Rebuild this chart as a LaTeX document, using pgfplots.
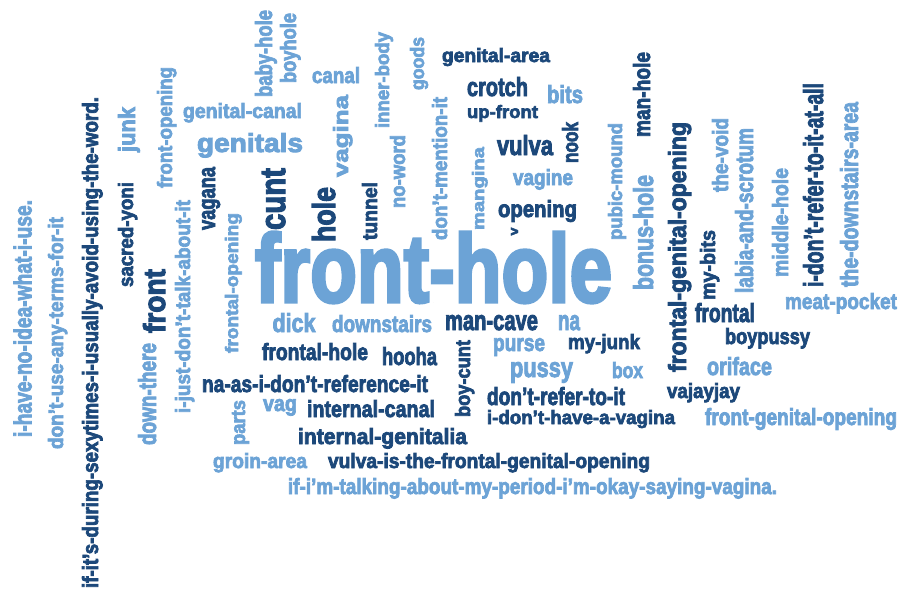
\documentclass[border=0pt]{standalone}
\usepackage{fontspec}
\setmainfont{Liberation Sans}[BoldFeatures={FakeBold=3.5}]
\usepackage{pgfplots}
\pgfplotsset{compat=1.18}

\definecolor{darkb}{RGB}{28,72,122}
\definecolor{lightb}{RGB}{108,163,214}

% one word of the cloud: x, y (centre of the baseline, px), length, height (px), angle, colour, word
\newcommand\cw[7]{%
    \addplot [only marks, mark=*, mark size=0pt, mark options={draw=none, fill=none},
        nodes near coords={\resizebox{#3pt}{#4pt}{\bfseries #7}},
        every node near coord/.style={anchor=base, inner sep=0pt, outer sep=0pt, rotate=#5, text=#6}]
        coordinates {(#1,#2)};
}

\begin{document}
\begin{tikzpicture}
    \begin{axis}[
        scale only axis,
        width = 899pt, height = 592pt,
        xmin = 0, xmax = 899, ymin = 0, ymax = 592,
        y dir = reverse,
        axis line style = {draw=none},
        ticks = none,
        clip = false
    ]
        \addplot [draw=none, mark=none] coordinates {(0,0) (899,592)};
        % light words
        \cw{242.5}{118}{119}{15}{0}{lightb}{genital-canal}
        \cw{250}{152}{106}{19}{0}{lightb}{genitals}
        \cw{336}{83}{48}{16}{0}{lightb}{canal}
        \cw{565}{103}{36}{18}{0}{lightb}{bits}
        \cw{543}{185}{60}{16}{0}{lightb}{vagine}
        \cw{433.5}{302}{357}{70}{0}{lightb}{front-hole}
        \cw{841}{309}{112}{16}{0}{lightb}{meat-pocket}
        \cw{739.5}{375}{65}{18}{0}{lightb}{oriface}
        \cw{801}{425}{192}{17}{0}{lightb}{front-genital-opening}
        \cw{627.5}{378}{31}{16}{0}{lightb}{box}
        \cw{541.5}{377}{63}{15}{0}{lightb}{pussy}
        \cw{519}{351}{52}{13}{0}{lightb}{purse}
        \cw{569}{330}{22}{15}{0}{lightb}{na}
        \cw{382}{332}{100}{17}{0}{lightb}{downstairs}
        \cw{294}{332}{43}{19}{0}{lightb}{dick}
        \cw{280}{411}{34}{12}{0}{lightb}{vag}
        \cw{260}{468}{94}{15}{0}{lightb}{groin-area}
        \cw{532.5}{494}{489}{16}{0}{lightb}{if-i'm-talking-about-my-period-i'm-okay-saying-vagina.}
        \cw{31.5}{318.5}{237}{18}{90}{lightb}{i-have-no-idea-what-i-use.}
        \cw{63}{333}{232}{15}{90}{lightb}{don't-use-any-terms-for-it}
        \cw{135}{129.5}{45}{17}{90}{lightb}{junk}
        \cw{172}{127.5}{121}{15}{90}{lightb}{front-opening}
        \cw{190}{306.5}{213}{15}{90}{lightb}{i-just-don't-talk-about-it}
        \cw{238}{283}{140}{13}{90}{lightb}{frontal-opening}
        \cw{156}{394}{102}{18}{90}{lightb}{down-there}
        \cw{245}{422.5}{45}{13}{90}{lightb}{parts}
        \cw{272}{53.5}{87}{17}{90}{lightb}{baby-hole}
        \cw{296}{48}{70}{16}{90}{lightb}{boyhole}
        \cw{348}{136}{82}{15}{90}{lightb}{vagina}
        \cw{389}{80}{96}{14}{90}{lightb}{inner-body}
        \cw{424}{63.5}{53}{14}{90}{lightb}{goods}
        \cw{405}{171.5}{73}{15}{90}{lightb}{no-word}
        \cw{447}{168.5}{143}{15}{90}{lightb}{don't-mention-it}
        \cw{484}{188.5}{83}{12}{90}{lightb}{mangina}
        \cw{622}{181.5}{117}{14}{90}{lightb}{pubic-mound}
        \cw{653}{232.5}{115}{20}{90}{lightb}{bonus-hole}
        \cw{728}{155}{74}{16}{90}{lightb}{the-void}
        \cw{753}{210.5}{165}{18}{90}{lightb}{labia-and-scrotum}
        \cw{788}{222.5}{109}{16}{90}{lightb}{middle-hole}
        \cw{858}{194.5}{185}{18}{90}{lightb}{the-downstairs-area}
        % dark words
        \cw{496}{62}{108}{14}{0}{darkb}{genital-area}
        \cw{497.5}{96}{61}{19}{0}{darkb}{crotch}
        \cw{502.5}{118}{71}{13}{0}{darkb}{up-front}
        \cw{525}{155}{56}{20}{0}{darkb}{vulva}
        \cw{537.5}{217}{79}{17}{0}{darkb}{opening}
        \cw{491.5}{330}{93}{15}{0}{darkb}{man-cave}
        \cw{315}{360}{106}{17}{0}{darkb}{frontal-hole}
        \cw{409.5}{365}{55}{18}{0}{darkb}{hooha}
        \cw{604}{349}{72}{15}{0}{darkb}{my-junk}
        \cw{315}{392}{226}{17}{0}{darkb}{na-as-i-don't-reference-it}
        \cw{556}{405}{138}{18}{0}{darkb}{don't-refer-to-it}
        \cw{581}{424}{188}{14}{0}{darkb}{i-don't-have-a-vagina}
        \cw{371}{417}{128}{17}{0}{darkb}{internal-canal}
        \cw{382.5}{444}{169}{16}{0}{darkb}{internal-genitalia}
        \cw{489}{468}{322}{15}{0}{darkb}{vulva-is-the-frontal-genital-opening}
        \cw{725}{322}{60}{19}{0}{darkb}{frontal}
        \cw{767.5}{344}{85}{16}{0}{darkb}{boypussy}
        \cw{703.5}{398}{73}{15}{0}{darkb}{vajayjay}
        \cw{98}{342.5}{491}{16}{90}{darkb}{if-it's-during-sexytimes-i-usually-avoid-using-the-word.}
        \cw{133}{234.5}{105}{15}{90}{darkb}{sacred-yoni}
        \cw{165}{301}{64}{22}{90}{darkb}{front}
        \cw{215}{198.5}{63}{13}{90}{darkb}{vagana}
        \cw{285}{199}{62}{23}{90}{darkb}{cunt}
        \cw{335}{214.5}{55}{23}{90}{darkb}{hole}
        \cw{377}{211}{58}{15}{90}{darkb}{tunnel}
        \cw{518}{231.5}{8}{7}{90}{darkb}{v}
        \cw{578}{142.5}{41}{16}{90}{darkb}{nook}
        \cw{650}{94.5}{85}{17}{90}{darkb}{man-hole}
        \cw{686}{247}{250}{18}{90}{darkb}{frontal-genital-opening}
        \cw{715}{265}{70}{15}{90}{darkb}{my-bits}
        \cw{823}{185}{204}{20}{90}{darkb}{i-don't-refer-to-it-at-all}
        \cw{470}{378.5}{77}{15}{90}{darkb}{boy-cunt}
    \end{axis}
\end{tikzpicture}
\end{document}
